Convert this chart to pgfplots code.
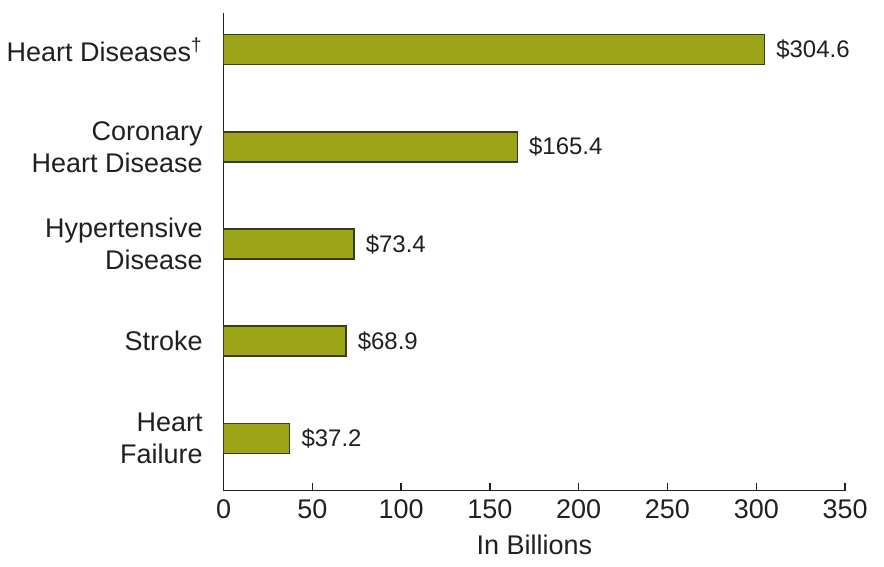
\documentclass[border=0pt]{standalone}
\usepackage{fontspec}
\setmainfont{Liberation Sans}
\usepackage{pgfplots}
\pgfplotsset{compat=1.18}
\definecolor{barfill}{RGB}{155,163,23}
\definecolor{bardraw}{RGB}{60,60,30}
\definecolor{txt}{RGB}{35,31,32}
\begin{document}
\begin{tikzpicture}
\begin{axis}[
  scale only axis, width=311pt, height=239pt,
  xbar, bar width=15pt,
  xmin=0, xmax=350, ymin=-0.54, ymax=4.38,
  axis x line=bottom, axis y line=left,
  axis line style={-, line width=0.7pt, color=txt},
  xtick={0,50,...,350}, tick align=inside, major tick length=4pt,
  x tick style={line width=0.7pt, color=txt},
  ytick={0,1,2,3,4},
  yticklabels={{Heart\\Failure},Stroke,{Hypertensive\\Disease},{Coronary\\Heart Disease},{Heart Diseases\textsuperscript{†}}},
  y tick style={draw=none},
  y tick label style={align=right, font=\fontsize{13.5}{16}\selectfont, text=txt, xshift=-7pt},
  x tick label style={font=\fontsize{13.5}{16}\selectfont, text=txt, yshift=-1pt},
  /pgf/number format/assume math mode=true,
  xlabel={In Billions},
  xlabel style={at={(axis description cs:0.5,0)}, anchor=base, yshift=-32pt, font=\fontsize{13.5}{16}\selectfont, text=txt},
  nodes near coords={\$\pgfmathprintnumber[fixed,precision=1,fixed zerofill]{\pgfplotspointmeta}},
  nodes near coords align=horizontal,
  every node near coord/.append style={font=\fontsize{12}{14}\selectfont, text=txt, xshift=2.3pt},
  point meta=x,
  clip=false,
]
\addplot[fill=barfill, draw=bardraw, line width=0.6pt] coordinates {
  (37.2,0) (68.9,1) (73.4,2) (165.4,3) (304.6,4)
};
\end{axis}
\path[use as bounding box] ([shift={(-111.5pt,-38pt)}]current axis.south west) rectangle ([shift={(19.5pt,6.5pt)}]current axis.north east);
\end{tikzpicture}
\end{document}
